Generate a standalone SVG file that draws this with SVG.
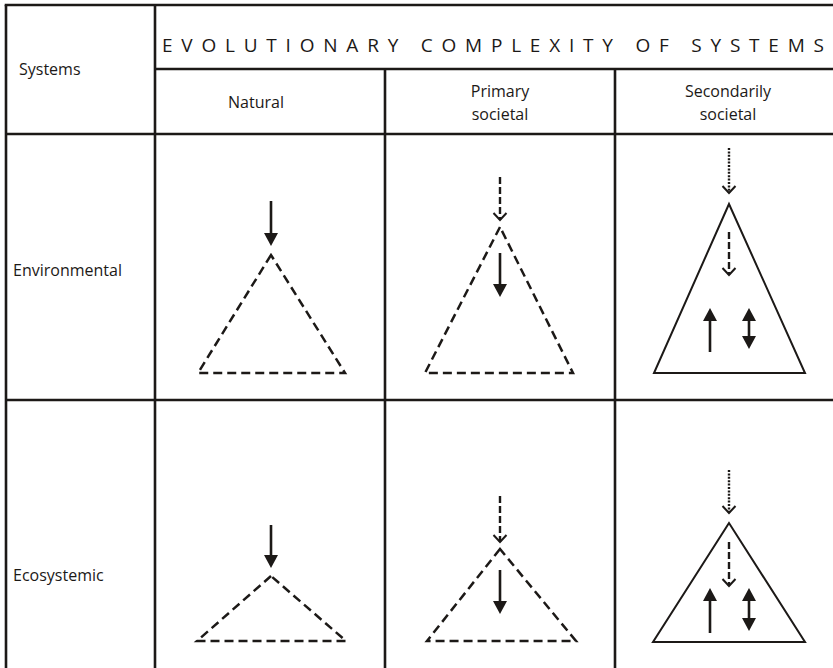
<svg xmlns="http://www.w3.org/2000/svg" width="833" height="668" viewBox="0 0 833 668">
  <style>
    .grid { stroke: #1c1917; stroke-width: 2.6; fill: none; }
    .txt { font-family: "Open Sans", "DejaVu Sans", sans-serif; fill: #1c1917; }
    .lbl { font-size: 16px; }
    .title { font-size: 19px; }
    .solid { stroke: #1c1917; stroke-width: 2.6; fill: none; }
    .dashed { stroke: #1c1917; stroke-width: 2.4; fill: none; stroke-dasharray: 7 3; }
    .dotted { stroke: #1c1917; stroke-width: 2.4; fill: none; stroke-dasharray: 2 1.4; }
    .tri-dash { stroke: #1c1917; stroke-width: 2.5; fill: none; stroke-dasharray: 9 5; }
    .tri-solid { stroke: #1c1917; stroke-width: 2; fill: none; stroke-linejoin: miter; }
  </style>
  <defs>
    <marker id="head" viewBox="0 0 13 14" markerWidth="13" markerHeight="14" refX="1" refY="7" orient="auto" markerUnits="userSpaceOnUse">
      <path d="M0,0 L13,7 L0,14 z" fill="#1c1917"/>
    </marker>
    <marker id="headStart" viewBox="0 0 13 14" markerWidth="13" markerHeight="14" refX="12" refY="7" orient="auto" markerUnits="userSpaceOnUse">
      <path d="M13,0 L0,7 L13,14 z" fill="#1c1917"/>
    </marker>
    <marker id="chevron" viewBox="-1 -1 10 15" markerWidth="10" markerHeight="15" refX="7" refY="6.5" orient="auto" markerUnits="userSpaceOnUse" overflow="visible">
      <path d="M0,0 L7,6.5 L0,13" fill="none" stroke="#1c1917" stroke-width="2"/>
    </marker>
  </defs>

  <!-- table grid -->
  <g id="grid" class="grid">
    <line x1="4.7" y1="5" x2="833" y2="5"/>
    <line x1="6" y1="5" x2="6" y2="668"/>
    <line x1="155" y1="5" x2="155" y2="668"/>
    <line x1="385" y1="69" x2="385" y2="668"/>
    <line x1="615" y1="69" x2="615" y2="668"/>
    <line x1="155" y1="69" x2="833" y2="69"/>
    <line x1="6" y1="134" x2="833" y2="134"/>
    <line x1="6" y1="400" x2="833" y2="400"/>
  </g>

  <!-- header texts -->
  <g id="headers" class="txt">
    <text class="title" x="162" y="52" textLength="662" lengthAdjust="spacing">EVOLUTIONARY COMPLEXITY OF SYSTEMS</text>
    <text class="lbl" x="19" y="75">Systems</text>
    <text class="lbl" x="256" y="108" text-anchor="middle">Natural</text>
    <text class="lbl" x="500" y="97" text-anchor="middle">Primary</text>
    <text class="lbl" x="500" y="120" text-anchor="middle">societal</text>
    <text class="lbl" x="728" y="97" text-anchor="middle">Secondarily</text>
    <text class="lbl" x="728" y="120" text-anchor="middle">societal</text>
    <text class="lbl" x="13" y="276">Environmental</text>
    <text class="lbl" x="13" y="581">Ecosystemic</text>
  </g>

  <!-- environmental / natural -->
  <g id="env-natural">
    <polygon class="tri-dash" points="271,255 198,373 345,373"/>
  </g>
  <!-- environmental / primary societal -->
  <g id="env-primary">
    <polygon class="tri-dash" points="500,227 425,373 573,373"/>
  </g>
  <!-- environmental / secondarily societal -->
  <g id="env-secondary">
    <polygon class="tri-solid" points="729,204 654,373 805,373"/>
  </g>
  <!-- ecosystemic / natural -->
  <g id="eco-natural">
    <polygon class="tri-dash" points="271,576 197,641 346,641"/>
  </g>
  <!-- ecosystemic / primary societal -->
  <g id="eco-primary">
    <polygon class="tri-dash" points="500,549 427,641 576,641"/>
  </g>
  <!-- ecosystemic / secondarily societal -->
  <g id="eco-secondary">
    <polygon class="tri-solid" points="729,523 653,642 805,642"/>
  </g>

  <!-- arrows -->
  <g id="connectors">
    <!-- environmental row -->
    <line class="solid" x1="271" y1="201" x2="271" y2="234" marker-end="url(#head)"/>
    <line class="dashed" x1="500" y1="177" x2="500" y2="220" marker-end="url(#chevron)"/>
    <line class="solid" x1="500" y1="253" x2="500" y2="285" marker-end="url(#head)"/>
    <line class="dotted" x1="729" y1="148" x2="729" y2="193" marker-end="url(#chevron)"/>
    <line class="dashed" x1="729" y1="232" x2="729" y2="275" marker-end="url(#chevron)"/>
    <line class="solid" x1="710" y1="352" x2="710" y2="320" marker-end="url(#head)"/>
    <line class="solid" x1="749" y1="320" x2="749" y2="337" marker-start="url(#headStart)" marker-end="url(#head)"/>
    <!-- ecosystemic row -->
    <line class="solid" x1="271" y1="525" x2="271" y2="556" marker-end="url(#head)"/>
    <line class="dashed" x1="500" y1="496" x2="500" y2="542" marker-end="url(#chevron)"/>
    <line class="solid" x1="500" y1="570" x2="500" y2="602" marker-end="url(#head)"/>
    <line class="dotted" x1="729" y1="470" x2="729" y2="513" marker-end="url(#chevron)"/>
    <line class="dashed" x1="729" y1="542" x2="729" y2="586" marker-end="url(#chevron)"/>
    <line class="solid" x1="710" y1="633" x2="710" y2="600" marker-end="url(#head)"/>
    <line class="solid" x1="749" y1="600" x2="749" y2="619" marker-start="url(#headStart)" marker-end="url(#head)"/>
  </g>
</svg>
